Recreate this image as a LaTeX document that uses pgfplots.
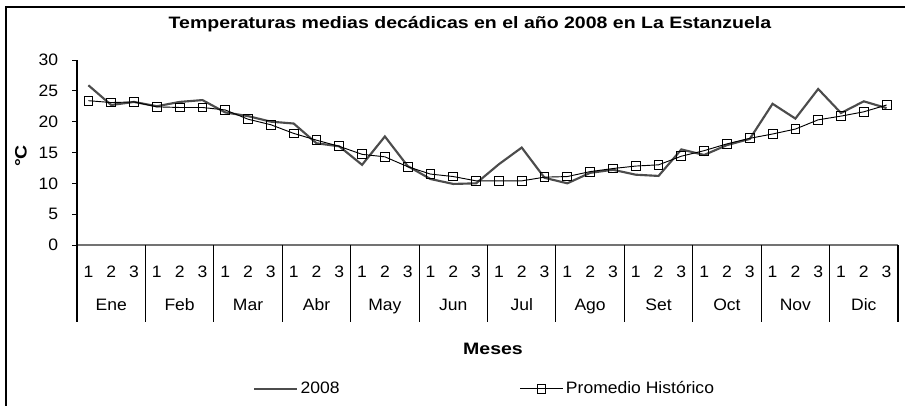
\documentclass[border=0pt]{standalone}
\usepackage{pgfplots}
\pgfplotsset{compat=1.18}
\usepackage{fontspec}
\setmainfont{Liberation Sans}[FakeStretch=1.06, BoldFeatures={FakeStretch=1.18}]
\tikzset{month/.style={yshift=-45pt, text height=1.6ex, text depth=0.3ex}}
\begin{document}
\fontsize{12.4}{14}\selectfont
\begin{tikzpicture}[x=0.75pt,y=0.75pt]
\useasboundingbox (0,0) rectangle (905,406);
\draw[line width=1pt] (6,0) -- (6,399) -- (905,399);
\node[font=\bfseries] at (470,382) {Temperaturas medias decádicas en el año 2008 en La Estanzuela};
\node[font=\bfseries, rotate=90] at (21,250) {°C};
\node[font=\bfseries] at (493,57) {Meses};
\begin{axis}[
  at={(57.75pt,120.75pt)}, anchor=south west,
  scale only axis, width=615.75pt, height=138.75pt,
  xmin=0, xmax=36, ymin=0, ymax=30,
  axis x line=bottom, axis y line=left,
  axis line style={-},
  x axis line style={draw=black!55, line width=0.9pt},
  y axis line style={draw=black, line width=0.8pt},
  ytick={0,5,...,30},
  /pgf/number format/assume math mode=true,
  tick align=outside,
  ytick style={draw=black, line width=0.6pt},
  major tick length=3.75pt,
  yticklabel style={anchor=east, xshift=-6pt},
  xtick={0.5,1.5,...,35.5},
  xticklabels={1,2,3,1,2,3,1,2,3,1,2,3,1,2,3,1,2,3,1,2,3,1,2,3,1,2,3,1,2,3,1,2,3,1,2,3},
  xtick style={draw=none},
  xticklabel style={anchor=north, yshift=-8pt},
  clip=false,
  legend columns=2,
  legend style={at={(0.2095,-0.778)}, anchor=west, draw=none, fill=none,
    /tikz/every even column/.append style={column sep=133pt}},
  legend image code/.code={\draw[mark repeat=2,mark phase=2,#1] plot coordinates {(0pt,0pt) (16pt,0pt) (32pt,0pt)};},
]
\addplot[draw=black!70, line width=1.6pt, no markers] coordinates {
(0.5,25.9)(1.5,22.7)(2.5,23.2)(3.5,22.5)(4.5,23.2)(5.5,23.5)
(6.5,21.5)(7.5,20.9)(8.5,20.0)(9.5,19.7)(10.5,16.5)(11.5,16.0)
(12.5,13.0)(13.5,17.6)(14.5,12.8)(15.5,10.7)(16.5,9.9)(17.5,10.0)
(18.5,13.1)(19.5,15.8)(20.5,10.9)(21.5,10.0)(22.5,11.7)(23.5,12.2)
(24.5,11.4)(25.5,11.2)(26.5,15.5)(27.5,14.6)(28.5,16.2)(29.5,17.2)
(30.5,22.9)(31.5,20.5)(32.5,25.3)(33.5,21.4)(34.5,23.3)(35.5,22.2)
};
\addlegendentry{2008}
\addplot[draw=black, line width=0.7pt, mark=square, mark size=3.3pt, mark options={fill=white, line width=0.7pt}] coordinates {
(0.5,23.4)(1.5,23.1)(2.5,23.2)(3.5,22.4)(4.5,22.3)(5.5,22.3)
(6.5,21.9)(7.5,20.4)(8.5,19.5)(9.5,18.1)(10.5,17.0)(11.5,16.0)
(12.5,14.7)(13.5,14.3)(14.5,12.7)(15.5,11.5)(16.5,11.1)(17.5,10.4)
(18.5,10.4)(19.5,10.4)(20.5,11.0)(21.5,11.1)(22.5,11.9)(23.5,12.4)
(24.5,12.8)(25.5,13.0)(26.5,14.4)(27.5,15.3)(28.5,16.4)(29.5,17.3)
(30.5,18.0)(31.5,18.8)(32.5,20.3)(33.5,20.9)(34.5,21.6)(35.5,22.7)
};
\addlegendentry{Promedio Histórico}
\pgfplotsinvokeforeach{0,3,6,9,12,15,18,21,24,27,30,33,36}{
  \draw[black, line width=0.8pt] (axis cs:#1,0) -- ++(0,-57.75pt);
}
\node[month] at (axis cs:1.5,0) {Ene};
\node[month] at (axis cs:4.5,0) {Feb};
\node[month] at (axis cs:7.5,0) {Mar};
\node[month] at (axis cs:10.5,0) {Abr};
\node[month] at (axis cs:13.5,0) {May};
\node[month] at (axis cs:16.5,0) {Jun};
\node[month] at (axis cs:19.5,0) {Jul};
\node[month] at (axis cs:22.5,0) {Ago};
\node[month] at (axis cs:25.5,0) {Set};
\node[month] at (axis cs:28.5,0) {Oct};
\node[month] at (axis cs:31.5,0) {Nov};
\node[month] at (axis cs:34.5,0) {Dic};
\end{axis}
\end{tikzpicture}
\end{document}
